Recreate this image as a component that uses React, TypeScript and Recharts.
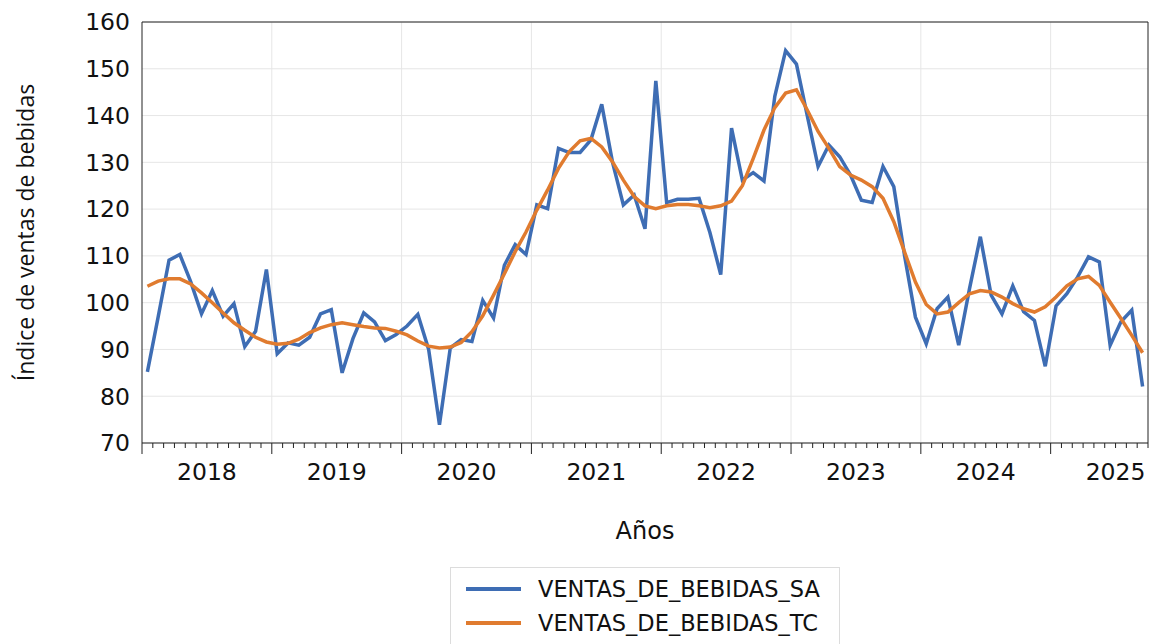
import React from "react";
import {
  LineChart,
  Line,
  XAxis,
  YAxis,
  CartesianGrid,
  ReferenceLine,
  Label,
} from "recharts";

// monthly index, Jan 2018 .. Sep 2025
const firstYear = 2018;
const years = [2018, 2019, 2020, 2021, 2022, 2023, 2024, 2025];

const ventasSA = [
  85.2, 97, 109.1, 110.3, 104.5, 97.6, 102.6, 97.1, 99.8, 90.6, 93.9, 107.1,
  89.1, 91.4, 90.9, 92.6, 97.6, 98.5, 85.0, 92.3, 97.8, 95.9, 91.9, 93.2,
  95.0, 97.5, 90, 73.9, 90.3, 92.1, 91.7, 100.5, 96.7, 108.0, 112.4, 110.3,
  120.9, 120.1, 133.0, 132.1, 132.1, 134.8, 142.4, 130, 120.9, 123.0, 115.8, 147.4,
  121.4, 122.1, 122.1, 122.3, 115, 106.0, 137.3, 126.2, 127.8, 126.0, 144.1, 153.9,
  151.0, 140, 129.1, 133.7, 131.2, 127.3, 121.9, 121.4, 129.1, 124.8, 110, 96.9,
  91.2, 98.7, 101.2, 90.9, 103, 114.1, 101.6, 97.6, 103.6, 98.1, 96.2, 86.4,
  99.3, 101.9, 105.5, 109.8, 108.7, 90.9, 95.9, 98.4, 82.1,
];

const ventasTC = [
  103.5, 104.6, 105.1, 105.1, 104.0, 102.1, 100.0, 97.8, 95.7, 94.1, 92.6, 91.6,
  91.1, 91.3, 92.2, 93.6, 94.6, 95.3, 95.7, 95.3, 94.9, 94.6, 94.5, 93.9,
  93.1, 91.8, 90.7, 90.3, 90.5, 91.5, 93.8, 97.2, 101.6, 106.2, 110.9, 115.1,
  119.8, 124.1, 128.7, 132.3, 134.6, 135.1, 133.3, 130.1, 126.2, 122.7, 120.7, 120.1,
  120.7, 121.0, 121.0, 120.7, 120.3, 120.7, 121.7, 125.0, 130.8, 136.9, 141.7, 144.8,
  145.5, 141.2, 136.6, 133.0, 129.1, 127.3, 126.2, 124.8, 122.3, 117.3, 110.8, 104.4,
  99.6, 97.6, 98.0, 100.0, 101.9, 102.6, 102.3, 101.2, 99.8, 98.7, 98.0, 99.1,
  101.2, 103.6, 105.1, 105.6, 103.7, 100.1, 96.6, 93.0, 89.3,
];

const yTicks = [70, 80, 90, 100, 110, 120, 130, 140, 150, 160];

const series = [
  { key: "sa", name: "VENTAS_DE_BEBIDAS_SA", color: "#3E6DB4" },
  { key: "tc", name: "VENTAS_DE_BEBIDAS_TC", color: "#E07B2F" },
];

const nMonths = ventasSA.length;
const data = ventasSA.map((v, i) => ({ t: i + 0.5, sa: v, tc: ventasTC[i] }));
const monthTicks = Array.from({ length: nMonths + 1 }, (_, i) => i);
const yearLines = years.slice(1).map((_, i) => (i + 1) * 12);

const tickFont = "'DejaVu Sans', Verdana, sans-serif";

const MonthTick = (props: any) => {
  const { x, y, payload } = props;
  const m = payload.value;
  const long = m % 12 === 0;
  return (
    <g>
      <line x1={x} x2={x} y1={y} y2={y + (long ? 11 : 5)} stroke="#222" strokeWidth={1} />
      {m % 12 === 6 && (
        <text x={x} y={y + 37} textAnchor="middle" fontSize={23.5} fontFamily={tickFont} fill="#111">
          {firstYear + Math.floor(m / 12)}
        </text>
      )}
    </g>
  );
};

export default function App() {
  return (
    <div style={{ position: "absolute", left: 0, top: 0, width: 1153, height: 644, background: "#fff" }}>
      <LineChart
        width={1153}
        height={644}
        data={data}
        margin={{ top: 22, right: 5, left: 0, bottom: 91 }}
      >
        <CartesianGrid vertical={false} stroke="#e6e6e6" />
        {yearLines.map((m) => (
          <ReferenceLine key={m} x={m} stroke="#e6e6e6" />
        ))}
        <ReferenceLine y={160} stroke="#222" />
        <ReferenceLine x={nMonths} stroke="#222" />
        <XAxis
          type="number"
          dataKey="t"
          domain={[0, nMonths]}
          ticks={monthTicks}
          interval={0}
          tickLine={false}
          tickSize={0}
          tickMargin={0}
          tick={<MonthTick />}
          axisLine={{ stroke: "#222" }}
          height={110}
        >
          <Label
            content={(p: any) => {
              const vb = p.viewBox;
              return (
                <text x={vb.x + vb.width / 2} y={vb.y + 96} textAnchor="middle" fontSize={24} fontFamily={tickFont} fill="#111">
                  Años
                </text>
              );
            }}
          />
        </XAxis>
        <YAxis
          domain={[70, 160]}
          ticks={yTicks}
          interval={0}
          width={142}
          tickLine={false}
          tickSize={0}
          tickMargin={12}
          axisLine={{ stroke: "#222" }}
          tick={{ fontSize: 23.5, fontFamily: tickFont, fill: "#111" }}
        >
          <Label
            content={(p: any) => {
              const vb = p.viewBox;
              const cx = vb.x + 25;
              const cy = vb.y + vb.height / 2;
              return (
                <text
                  x={cx}
                  y={cy}
                  transform={`rotate(-90 ${cx} ${cy})`}
                  textAnchor="middle"
                  dominantBaseline="central"
                  fontSize={23}
                  fontFamily="'Open Sans', sans-serif"
                  fill="#111"
                >
                  Índice de ventas de bebidas
                </text>
              );
            }}
          />
        </YAxis>
        {series.map((s) => (
          <Line
            key={s.key}
            type="linear"
            dataKey={s.key}
            name={s.name}
            stroke={s.color}
            strokeWidth={3.5}
            dot={false}
            isAnimationActive={false}
          />
        ))}
      </LineChart>
      <div
        style={{
          position: "absolute",
          left: 450,
          top: 567,
          width: 390,
          height: 90,
          border: "1px solid #dcdcdc",
          boxSizing: "border-box",
          fontFamily: tickFont,
          fontSize: 22.5,
          color: "#111",
        }}
      >
        {series.map((s, i) => (
          <div
            key={s.key}
            style={{ position: "absolute", left: 0, top: 4 + i * 34, height: 34, display: "flex", alignItems: "center" }}
          >
            <span style={{ display: "inline-block", width: 55, height: 3.5, background: s.color, marginLeft: 15, marginRight: 17 }} />
            <span style={{ whiteSpace: "nowrap" }}>{s.name}</span>
          </div>
        ))}
      </div>
    </div>
  );
}
